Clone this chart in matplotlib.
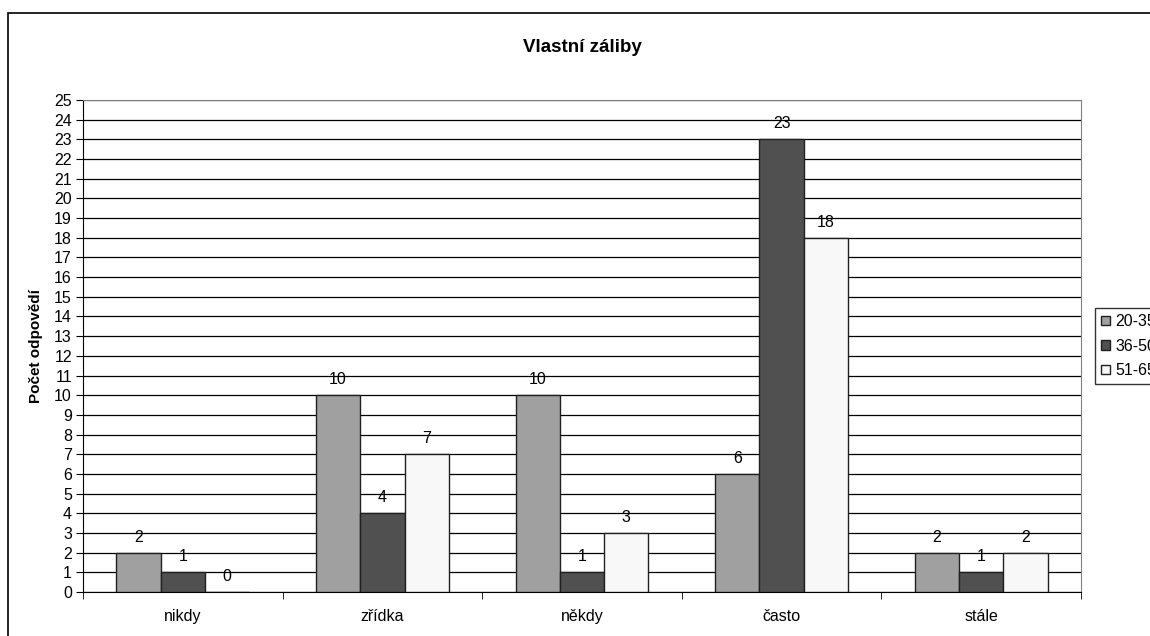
import matplotlib
matplotlib.use('Agg')
import matplotlib.pyplot as plt
import numpy as np
from matplotlib.patches import Rectangle

plt.rcParams['font.family'] = ['Liberation Sans', 'DejaVu Sans']

categories = ['nikdy', 'zřídka', 'někdy', 'často', 'stále']
groups = ['20-35', '36-50', '51-65']
g_20_35 = [2, 10, 10, 6, 2]
g_36_50 = [1, 4, 1, 23, 1]
g_51_65 = [0, 7, 3, 18, 2]
colors = ['#a0a0a0', '#505050', '#f8f8f8']

W, H = 1150, 636
fs = 11.5
fig = plt.figure(figsize=(W / 100, H / 100), dpi=100)
fig.patch.set_facecolor('white')

# outer chart frame (runs off the right and bottom edges)
fig.patches.append(Rectangle((8 / W, -0.01), 1.05, 1 - 13 / H + 0.01,
                             transform=fig.transFigure, fill=False,
                             edgecolor='black', linewidth=1.2))

ax = fig.add_axes([83 / W, 1 - 592 / H, (1081 - 83) / W, (592 - 100) / H])

x = np.arange(len(categories))
bw = 0.222
for i, (vals, c, lab) in enumerate(zip([g_20_35, g_36_50, g_51_65], colors, groups)):
    pos = x + (i - 1) * bw
    ax.bar(pos, vals, width=bw, color=c, edgecolor='#202020', linewidth=1,
           label=lab, zorder=3)
    for p, v in zip(pos, vals):
        ax.text(p, v + 0.4, str(v), ha='center', va='bottom', fontsize=fs)

ax.set_xlim(-0.5, len(categories) - 0.5)
ax.set_ylim(0, 25)
ax.set_yticks(range(0, 26))
ax.tick_params(axis='y', labelsize=fs, length=5, direction='out', pad=3)
ax.set_xticks(x)
ax.set_xticklabels(categories, fontsize=fs)
ax.tick_params(axis='x', length=0, pad=12)
# tick marks between categories on the x axis
ax.set_xticks(np.arange(-0.5, len(categories)), minor=True)
ax.tick_params(axis='x', which='minor', length=5, direction='out')

ax.yaxis.grid(True, color='black', linewidth=0.9, zorder=0)
ax.set_axisbelow(True)
for s in ['top', 'right']:
    ax.spines[s].set_color('#808080')
ax.spines['left'].set_color('black')
ax.spines['bottom'].set_color('black')

ax.set_ylabel('Počet odpovědí', fontsize=11, fontweight='bold', labelpad=8)
fig.text((83 + 1081) / 2 / W, 1 - 47 / H, 'Vlastní záliby', ha='center',
         va='center', fontsize=13.5, fontweight='bold')

fig.legend(loc='upper left', bbox_to_anchor=(1095 / W, 1 - 308 / H),
           borderaxespad=0, frameon=True, fancybox=False, edgecolor='black',
           fontsize=fs, handlelength=0.55, handleheight=0.55,
           handletextpad=0.33, labelspacing=0.6, borderpad=0.375)

fig.savefig('out.png', dpi=100)
